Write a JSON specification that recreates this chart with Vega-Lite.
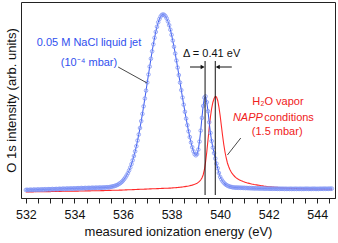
{
"$schema":"https://vega.github.io/schema/vega-lite/v6.json",
"width":314,"height":196,
"autosize":{"type":"none"},
"padding":{"left":21,"top":2,"right":3,"bottom":45},
"background":"white",
"config":{"view":{"stroke":"#222","strokeWidth":1},"font":"Liberation Sans",
 "axisX":{"tickCount":26,"labelExpr":"datum.value % 2 === 0 ? format(datum.value, 'd') : ''","labelOverlap":false,"labelFlush":false,"grid":false,
    "tickSize":5,"tickColor":"#222","domainColor":"#222","labelFontSize":12.5,"labelColor":"#111","labelPadding":5,
    "titleFontSize":13,"titleFontWeight":"normal","titleColor":"#111","titlePadding":5},
 "axisY":{"ticks":false,"labels":false,"domain":false,"grid":false,"titlePadding":3,"titleFontSize":13,"titleFontWeight":"normal","titleColor":"#111"}},
"datasets":{"main":[
{"e":532.00,"b":8.0,"r":6.0},{"e":532.05,"b":8.3,"r":6.0},{"e":532.10,"b":7.9,"r":6.0},{"e":532.15,"b":8.1,"r":6.1},{"e":532.20,"b":8.4,"r":6.1},{"e":532.25,"b":8.0,"r":6.1},{"e":532.30,"b":8.2,"r":6.1},{"e":532.35,"b":8.5,"r":6.2},{"e":532.40,"b":8.1,"r":6.2},{"e":532.45,"b":8.3,"r":6.2},
{"e":532.50,"b":8.6,"r":6.2},{"e":532.55,"b":8.2,"r":6.2},{"e":532.60,"b":8.4,"r":6.3},{"e":532.65,"b":8.7,"r":6.3},{"e":532.70,"b":8.3,"r":6.3},{"e":532.75,"b":8.6,"r":6.3},{"e":532.80,"b":8.8,"r":6.3},{"e":532.85,"b":8.4,"r":6.4},{"e":532.90,"b":8.7,"r":6.4},{"e":532.95,"b":8.9,"r":6.4},
{"e":533.00,"b":8.5,"r":6.4},{"e":533.05,"b":8.8,"r":6.5},{"e":533.10,"b":9.0,"r":6.5},{"e":533.15,"b":8.7,"r":6.5},{"e":533.20,"b":8.9,"r":6.5},{"e":533.25,"b":9.1,"r":6.5},{"e":533.30,"b":8.8,"r":6.6},{"e":533.35,"b":9.0,"r":6.6},{"e":533.40,"b":9.3,"r":6.6},{"e":533.45,"b":8.9,"r":6.6},
{"e":533.50,"b":9.2,"r":6.7},{"e":533.55,"b":9.4,"r":6.7},{"e":533.60,"b":9.0,"r":6.7},{"e":533.65,"b":9.3,"r":6.7},{"e":533.70,"b":9.5,"r":6.7},{"e":533.75,"b":9.2,"r":6.8},{"e":533.80,"b":9.4,"r":6.8},{"e":533.85,"b":9.6,"r":6.8},{"e":533.90,"b":9.3,"r":6.8},{"e":533.95,"b":9.5,"r":6.8},
{"e":534.00,"b":9.7,"r":6.9},{"e":534.05,"b":9.4,"r":6.9},{"e":534.10,"b":9.6,"r":6.9},{"e":534.15,"b":9.9,"r":6.9},{"e":534.20,"b":9.5,"r":7.0},{"e":534.25,"b":9.8,"r":7.0},{"e":534.30,"b":10.0,"r":7.0},{"e":534.35,"b":9.7,"r":7.0},{"e":534.40,"b":9.9,"r":7.0},{"e":534.45,"b":10.1,"r":7.1},
{"e":534.50,"b":9.8,"r":7.1},{"e":534.55,"b":10.0,"r":7.1},{"e":534.60,"b":10.2,"r":7.1},{"e":534.65,"b":9.9,"r":7.1},{"e":534.70,"b":10.1,"r":7.2},{"e":534.75,"b":10.3,"r":7.2},{"e":534.80,"b":10.0,"r":7.2},{"e":534.85,"b":10.2,"r":7.2},{"e":534.90,"b":10.4,"r":7.3},{"e":534.95,"b":10.1,"r":7.3},
{"e":535.00,"b":10.3,"r":7.3},{"e":535.05,"b":10.5,"r":7.3},{"e":535.10,"b":10.2,"r":7.4},{"e":535.15,"b":10.4,"r":7.4},{"e":535.20,"b":10.6,"r":7.4},{"e":535.25,"b":10.4,"r":7.5},{"e":535.30,"b":10.6,"r":7.5},{"e":535.35,"b":10.8,"r":7.5},{"e":535.40,"b":10.6,"r":7.6},{"e":535.45,"b":10.9,"r":7.6},
{"e":535.50,"b":11.2,"r":7.6},{"e":535.55,"b":11.4,"r":7.7},{"e":535.60,"b":11.7,"r":7.7},{"e":535.65,"b":12.0,"r":7.7},{"e":535.70,"b":12.4,"r":7.8},{"e":535.75,"b":12.9,"r":7.8},{"e":535.80,"b":13.5,"r":7.8},{"e":535.85,"b":14.3,"r":7.9},{"e":535.90,"b":15.1,"r":7.9},{"e":535.95,"b":16.1,"r":7.9},
{"e":536.00,"b":17.4,"r":8.0},{"e":536.05,"b":18.9,"r":8.0},{"e":536.10,"b":20.6,"r":8.1},{"e":536.15,"b":22.6,"r":8.1},{"e":536.20,"b":24.8,"r":8.2},{"e":536.25,"b":27.5,"r":8.2},{"e":536.30,"b":30.5,"r":8.3},{"e":536.35,"b":33.9,"r":8.3},{"e":536.40,"b":37.7,"r":8.4},{"e":536.45,"b":42.0,"r":8.4},
{"e":536.50,"b":46.7,"r":8.5},{"e":536.55,"b":51.8,"r":8.5},{"e":536.60,"b":57.5,"r":8.6},{"e":536.65,"b":63.5,"r":8.6},{"e":536.70,"b":70.0,"r":8.7},{"e":536.75,"b":76.9,"r":8.7},{"e":536.80,"b":84.1,"r":8.8},{"e":536.85,"b":91.7,"r":8.8},{"e":536.90,"b":99.5,"r":8.9},{"e":536.95,"b":107.4,"r":8.9},
{"e":537.00,"b":115.5,"r":9.0},{"e":537.05,"b":123.5,"r":9.0},{"e":537.10,"b":131.4,"r":9.1},{"e":537.15,"b":139.3,"r":9.1},{"e":537.20,"b":146.7,"r":9.2},{"e":537.25,"b":153.7,"r":9.2},{"e":537.30,"b":160.2,"r":9.3},{"e":537.35,"b":166.1,"r":9.3},{"e":537.40,"b":171.2,"r":9.4},{"e":537.45,"b":175.7,"r":9.4},
{"e":537.50,"b":179.0,"r":9.5},{"e":537.55,"b":181.5,"r":9.5},{"e":537.60,"b":183.1,"r":9.6},{"e":537.65,"b":183.5,"r":9.6},{"e":537.70,"b":183.1,"r":9.7},{"e":537.75,"b":181.8,"r":9.7},{"e":537.80,"b":179.6,"r":9.8},{"e":537.85,"b":176.6,"r":9.8},{"e":537.90,"b":172.8,"r":9.9},{"e":537.95,"b":168.3,"r":9.9},
{"e":538.00,"b":163.2,"r":10.0},{"e":538.05,"b":157.4,"r":10.1},{"e":538.10,"b":151.2,"r":10.2},{"e":538.15,"b":144.5,"r":10.3},{"e":538.20,"b":137.5,"r":10.4},{"e":538.25,"b":130.4,"r":10.5},{"e":538.30,"b":122.9,"r":10.6},{"e":538.35,"b":115.4,"r":10.7},{"e":538.40,"b":107.9,"r":10.9},{"e":538.45,"b":100.5,"r":11.0},
{"e":538.50,"b":93.3,"r":11.2},{"e":538.55,"b":86.2,"r":11.4},{"e":538.60,"b":79.4,"r":11.6},{"e":538.65,"b":72.9,"r":11.8},{"e":538.70,"b":66.7,"r":12.0},{"e":538.75,"b":60.9,"r":12.3},{"e":538.80,"b":55.6,"r":12.6},{"e":538.85,"b":50.8,"r":12.9},{"e":538.90,"b":46.7,"r":13.3},{"e":538.95,"b":43.8,"r":13.7},
{"e":539.00,"b":42.7,"r":14.2},{"e":539.05,"b":44.0,"r":14.8},{"e":539.10,"b":48.4,"r":15.6},{"e":539.15,"b":56.4,"r":16.6},{"e":539.20,"b":67.4,"r":18.0},{"e":539.25,"b":80.1,"r":20.0},{"e":539.30,"b":92.0,"r":23.0},{"e":539.35,"b":100.3,"r":28.0},{"e":539.40,"b":101.6,"r":36.0},{"e":539.45,"b":95.8,"r":46.0},
{"e":539.50,"b":86.8,"r":58.0},{"e":539.55,"b":75.8,"r":70.0},{"e":539.60,"b":65.1,"r":81.0},{"e":539.65,"b":56.9,"r":89.5},{"e":539.70,"b":50.4,"r":95.5},{"e":539.75,"b":44.9,"r":99.5},{"e":539.80,"b":39.5,"r":101.5},{"e":539.85,"b":34.4,"r":101.0},{"e":539.90,"b":29.7,"r":97.5},{"e":539.95,"b":25.0,"r":91.0},
{"e":540.00,"b":21.1,"r":82.5},{"e":540.05,"b":18.7,"r":72.5},{"e":540.10,"b":16.8,"r":62.5},{"e":540.15,"b":15.3,"r":53.5},{"e":540.20,"b":14.1,"r":46.0},{"e":540.25,"b":13.1,"r":40.0},{"e":540.30,"b":12.4,"r":35.0},{"e":540.35,"b":11.8,"r":31.5},{"e":540.40,"b":11.4,"r":28.5},{"e":540.45,"b":11.1,"r":26.2},
{"e":540.50,"b":10.8,"r":24.3},{"e":540.55,"b":10.6,"r":22.8},{"e":540.60,"b":10.5,"r":21.5},{"e":540.65,"b":10.3,"r":20.4},{"e":540.70,"b":10.5,"r":19.5},{"e":540.75,"b":10.2,"r":18.7},{"e":540.80,"b":10.4,"r":18.0},{"e":540.85,"b":10.1,"r":17.4},{"e":540.90,"b":10.3,"r":16.9},{"e":540.95,"b":10.0,"r":16.4},
{"e":541.00,"b":10.2,"r":16.0},{"e":541.05,"b":9.9,"r":15.6},{"e":541.10,"b":10.1,"r":15.2},{"e":541.15,"b":9.8,"r":14.9},{"e":541.20,"b":10.0,"r":14.6},{"e":541.25,"b":9.7,"r":14.3},{"e":541.30,"b":9.9,"r":14.0},{"e":541.35,"b":9.6,"r":13.8},{"e":541.40,"b":9.8,"r":13.5},{"e":541.45,"b":9.5,"r":13.3},
{"e":541.50,"b":9.8,"r":13.1},{"e":541.55,"b":9.5,"r":12.9},{"e":541.60,"b":9.7,"r":12.7},{"e":541.65,"b":9.4,"r":12.5},{"e":541.70,"b":9.7,"r":12.3},{"e":541.75,"b":9.4,"r":12.1},{"e":541.80,"b":9.6,"r":11.9},{"e":541.85,"b":9.3,"r":11.8},{"e":541.90,"b":9.6,"r":11.6},{"e":541.95,"b":9.3,"r":11.5},
{"e":542.00,"b":9.5,"r":11.3},{"e":542.05,"b":9.2,"r":11.2},{"e":542.10,"b":9.5,"r":11.1},{"e":542.15,"b":9.2,"r":11.0},{"e":542.20,"b":9.4,"r":10.9},{"e":542.25,"b":9.2,"r":10.8},{"e":542.30,"b":9.4,"r":10.7},{"e":542.35,"b":9.1,"r":10.6},{"e":542.40,"b":9.4,"r":10.5},{"e":542.45,"b":9.1,"r":10.4},
{"e":542.50,"b":9.3,"r":10.3},{"e":542.55,"b":9.1,"r":10.2},{"e":542.60,"b":9.3,"r":10.1},{"e":542.65,"b":9.0,"r":10.0},{"e":542.70,"b":9.3,"r":10.0},{"e":542.75,"b":9.0,"r":9.9},{"e":542.80,"b":9.2,"r":9.8},{"e":542.85,"b":9.0,"r":9.8},{"e":542.90,"b":9.3,"r":9.7},{"e":542.95,"b":9.0,"r":9.6},
{"e":543.00,"b":9.2,"r":9.6},{"e":543.05,"b":9.0,"r":9.5},{"e":543.10,"b":9.3,"r":9.5},{"e":543.15,"b":9.0,"r":9.4},{"e":543.20,"b":9.2,"r":9.4},{"e":543.25,"b":9.0,"r":9.3},{"e":543.30,"b":9.3,"r":9.3},{"e":543.35,"b":9.0,"r":9.2},{"e":543.40,"b":9.2,"r":9.2},{"e":543.45,"b":9.0,"r":9.1},
{"e":543.50,"b":9.3,"r":9.1},{"e":543.55,"b":9.1,"r":9.0},{"e":543.60,"b":9.3,"r":9.0},{"e":543.65,"b":9.0,"r":9.0},{"e":543.70,"b":9.2,"r":8.9},{"e":543.75,"b":9.0,"r":8.9},{"e":543.80,"b":9.3,"r":8.9},{"e":543.85,"b":9.1,"r":8.8},{"e":543.90,"b":9.3,"r":8.8},{"e":543.95,"b":9.0,"r":8.8},
{"e":544.00,"b":9.2,"r":8.7},{"e":544.05,"b":9.0,"r":8.7},{"e":544.10,"b":9.3,"r":8.7},{"e":544.15,"b":9.1,"r":8.6},{"e":544.20,"b":9.3,"r":8.6},{"e":544.25,"b":9.1,"r":8.6},{"e":544.30,"b":9.4,"r":8.6},{"e":544.35,"b":9.1,"r":8.5},{"e":544.40,"b":9.3,"r":8.5},{"e":544.45,"b":9.1,"r":8.5},
{"e":544.50,"b":9.4,"r":8.5},{"e":544.55,"b":9.2,"r":8.4},{"e":544.60,"b":9.4,"r":8.4}
]},
"layer":[
{"data":{"name":"main"},"mark":{"type":"line","color":"#ff2b2b","strokeWidth":1.1},
 "encoding":{
  "x":{"field":"e","type":"quantitative","title":"measured ionization energy (eV)","scale":{"domain":[531.8,544.73],"nice":false,"zero":false}},
  "y":{"field":"r","type":"quantitative","title":"O 1s intensity (arb. units)","scale":{"domain":[0,196],"nice":false,"zero":false}}}},
{"data":{"name":"main"},"mark":{"type":"line","color":"#3a5af0","strokeWidth":1},
 "encoding":{"x":{"field":"e","type":"quantitative","title":"measured ionization energy (eV)"},"y":{"field":"b","type":"quantitative","title":"O 1s intensity (arb. units)"}}},
{"data":{"name":"main"},"mark":{"type":"point","shape":"circle","filled":false,"size":13,"strokeWidth":0.8,"color":"#8296f5","opacity":1},
 "encoding":{"x":{"field":"e","type":"quantitative","title":"measured ionization energy (eV)"},"y":{"field":"b","type":"quantitative","title":"O 1s intensity (arb. units)"}}},
{"data":{"values":[{"e":539.38,"h":3,"h2":137},{"e":539.80,"h":3,"h2":137}]},"mark":{"type":"rule","color":"#111","strokeWidth":1},
 "encoding":{"x":{"field":"e","type":"quantitative","title":"measured ionization energy (eV)"},"y":{"field":"h","type":"quantitative","title":"O 1s intensity (arb. units)"},"y2":{"field":"h2"}}},
{"data":{"values":[{"e":538.76,"e2":539.3,"h":131},{"e":539.88,"e2":540.48,"h":131}]},"mark":{"type":"rule","color":"#111","strokeWidth":1},
 "encoding":{"x":{"field":"e","type":"quantitative","title":"measured ionization energy (eV)"},"x2":{"field":"e2"},"y":{"field":"h","type":"quantitative","title":"O 1s intensity (arb. units)"}}},
{"data":{"values":[{"e":539.28,"h":131,"s":"triangle-right"},{"e":539.90,"h":131,"s":"triangle-left"}]},"mark":{"type":"point","filled":true,"size":22,"color":"#111","opacity":1},
 "encoding":{"x":{"field":"e","type":"quantitative","title":"measured ionization energy (eV)"},"y":{"field":"h","type":"quantitative","title":"O 1s intensity (arb. units)"},"shape":{"field":"s","type":"nominal","scale":null}}},
{"data":{"values":[{"e":535.8,"h":131,"e2":536.99,"h2":115},{"e":540.85,"h":60,"e2":540.3,"h2":43}]},"mark":{"type":"rule","color":"#333","strokeWidth":0.9},
 "encoding":{"x":{"field":"e","type":"quantitative","title":"measured ionization energy (eV)"},"y":{"field":"h","type":"quantitative","title":"O 1s intensity (arb. units)"},"x2":{"field":"e2"},"y2":{"field":"h2"}}},
{"data":{"values":[{"e":534.6,"h":155,"t":"0.05 M NaCl liquid jet"},{"e":534.6,"h":135,"t":"(10⁻⁴ mbar)"}]},"mark":{"type":"text","color":"#3050ee","fontSize":11,"align":"center","baseline":"middle"},
 "encoding":{"x":{"field":"e","type":"quantitative","title":"measured ionization energy (eV)"},"y":{"field":"h","type":"quantitative","title":"O 1s intensity (arb. units)"},"text":{"field":"t"}}},
{"data":{"values":[{"e":542.38,"h":96,"t":"H₂O vapor"},{"e":542.35,"h":66,"t":"(1.5 mbar)"}]},"mark":{"type":"text","color":"#f02020","fontSize":11,"align":"center","baseline":"middle"},
 "encoding":{"x":{"field":"e","type":"quantitative","title":"measured ionization energy (eV)"},"y":{"field":"h","type":"quantitative","title":"O 1s intensity (arb. units)"},"text":{"field":"t"}}},
{"data":{"values":[{"e":541.76,"h":80,"t":"NAPP"}]},"mark":{"type":"text","color":"#f02020","fontSize":11,"fontStyle":"italic","align":"right","baseline":"middle"},
 "encoding":{"x":{"field":"e","type":"quantitative","title":"measured ionization energy (eV)"},"y":{"field":"h","type":"quantitative","title":"O 1s intensity (arb. units)"},"text":{"field":"t"}}},
{"data":{"values":[{"e":541.82,"h":80,"t":"conditions"}]},"mark":{"type":"text","color":"#f02020","fontSize":11,"align":"left","baseline":"middle"},
 "encoding":{"x":{"field":"e","type":"quantitative","title":"measured ionization energy (eV)"},"y":{"field":"h","type":"quantitative","title":"O 1s intensity (arb. units)"},"text":{"field":"t"}}},
{"data":{"values":[{"e":539.65,"h":144,"t":"Δ = 0.41 eV"}]},"mark":{"type":"text","color":"#111","fontSize":11,"align":"center","baseline":"middle"},
 "encoding":{"x":{"field":"e","type":"quantitative","title":"measured ionization energy (eV)"},"y":{"field":"h","type":"quantitative","title":"O 1s intensity (arb. units)"},"text":{"field":"t"}}}
]
}
